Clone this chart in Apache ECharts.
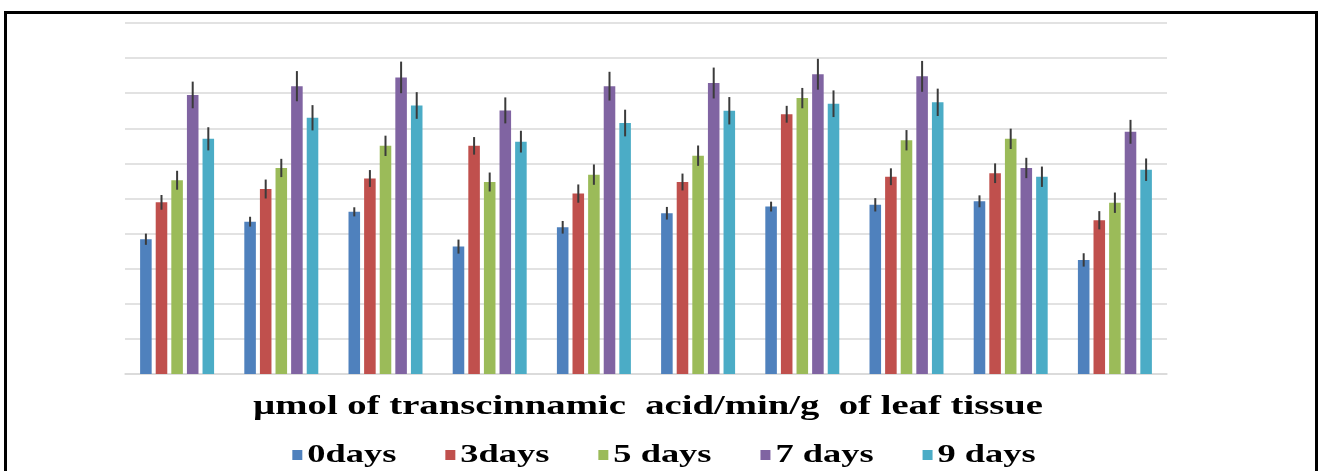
<!DOCTYPE html>
<html>
<head>
<meta charset="utf-8">
<script src="https://cdn.jsdelivr.net/npm/echarts@6/dist/echarts.min.js"></script>
<style>
  html, body { margin: 0; padding: 0; background: #fff; }
  #chart { width: 1321px; height: 471px; }
</style>
</head>
<body>
<div id="chart"></div>
<script>
// Ten treatments, PAL activity sampled at five time points
const categories = ['1', '2', '3', '4', '5', '6', '7', '8', '9', '10'];
const seriesNames = ['0days', '3days', '5 days', '7 days', '9 days'];
const axisTitle = 'µmol of transcinnamic  acid/min/g  of leaf tissue';

const days0 = [3.84, 4.34, 4.62, 3.63, 4.18, 4.58, 4.77, 4.82, 4.92, 3.25];
const days3 = [4.89, 5.27, 5.57, 6.50, 5.14, 5.47, 7.40, 5.62, 5.72, 4.38];
const days5 = [5.52, 5.87, 6.50, 5.47, 5.68, 6.22, 7.86, 6.66, 6.70, 4.88];
const days7 = [7.95, 8.20, 8.45, 7.51, 8.20, 8.29, 8.54, 8.48, 5.87, 6.90];
const days9 = [6.70, 7.30, 7.65, 6.62, 7.15, 7.50, 7.70, 7.74, 5.62, 5.82];

// standard errors
const err0 = [0.16, 0.14, 0.13, 0.20, 0.18, 0.18, 0.14, 0.19, 0.17, 0.19];
const err3 = [0.21, 0.27, 0.24, 0.25, 0.26, 0.24, 0.24, 0.24, 0.28, 0.26];
const err5 = [0.27, 0.26, 0.29, 0.27, 0.29, 0.29, 0.29, 0.29, 0.29, 0.29];
const err7 = [0.38, 0.43, 0.45, 0.37, 0.41, 0.44, 0.44, 0.44, 0.29, 0.34];
const err9 = [0.33, 0.36, 0.38, 0.31, 0.38, 0.39, 0.38, 0.39, 0.29, 0.32];

const yTicks = { min: 0, max: 10, interval: 1 };

const values = [days0, days3, days5, days7, days9];
const errors = [err0, err3, err5, err7, err9];
const colors = ['#4F81BD', '#C0504D', '#9BBB59', '#8064A2', '#4BACC6'];

const CAT_GAP = 0.29;
const BAR_GAP = 0.35;
const N = values.length;

function errorRenderer(seriesIdx) {
  return function (params, api) {
    const catIdx = api.value(0);
    const mean = api.value(1);
    const e = api.value(2);
    const center = api.coord([catIdx, mean]);
    const catWidth = api.size([1, 0])[0];
    const usable = catWidth * (1 - CAT_GAP);
    const bw = usable / (N + (N - 1) * BAR_GAP);
    const x = center[0] - usable / 2 + bw / 2 + seriesIdx * bw * (1 + BAR_GAP);
    const top = api.coord([catIdx, mean + e])[1];
    const bot = api.coord([catIdx, mean - e])[1];
    return {
      type: 'line',
      shape: { x1: x, y1: top, x2: x, y2: bot },
      style: { stroke: '#3b3b3b', lineWidth: 2 }
    };
  };
}

const series = [];
values.forEach((vals, i) => {
  series.push({
    name: seriesNames[i],
    type: 'bar',
    data: vals,
    barCategoryGap: (CAT_GAP * 100) + '%',
    barGap: (BAR_GAP * 100) + '%',
    itemStyle: { color: colors[i] },
    emphasis: { disabled: true }
  });
});
values.forEach((vals, i) => {
  series.push({
    type: 'custom',
    name: seriesNames[i] + ' error',
    renderItem: errorRenderer(i),
    data: vals.map((v, k) => [k, v, errors[i][k]]),
    z: 10,
    silent: true
  });
});

// Wide bold serif captions (horizontally stretched text)
const FONT_FAMILY = 'Liberation Serif';
const measureCtx = document.createElement('canvas').getContext('2d');
function textWidth(str, size) {
  measureCtx.font = 'bold ' + size + 'px "' + FONT_FAMILY + '"';
  return measureCtx.measureText(str).width;
}
const TITLE_SIZE = 28, TITLE_WIDTH = 790;
const TITLE_STRETCH = TITLE_WIDTH / textWidth(axisTitle, TITLE_SIZE);
const LEG_SIZE = 26, LEG_STRETCH = 1.4;

const graphics = [];
graphics.push({
  type: 'text',
  x: 648, y: 407,
  scaleX: TITLE_STRETCH,
  silent: true,
  style: {
    text: axisTitle,
    fill: '#000',
    font: 'bold ' + TITLE_SIZE + 'px "' + FONT_FAMILY + '"',
    align: 'center',
    verticalAlign: 'middle'
  }
});

// legend row
const SQ = 10, SQ_GAP = 5, ITEM_GAP = 49, LEG_Y = 455, LEG_CENTER = 664;
const itemWidths = seriesNames.map(n => SQ + SQ_GAP + textWidth(n, LEG_SIZE) * LEG_STRETCH);
const legendTotal = itemWidths.reduce((a, b) => a + b, 0) + ITEM_GAP * (N - 1);
let lx = LEG_CENTER - legendTotal / 2;
seriesNames.forEach((n, i) => {
  graphics.push({
    type: 'rect',
    silent: true,
    shape: { x: lx, y: LEG_Y - SQ / 2, width: SQ, height: SQ },
    style: { fill: colors[i] }
  });
  graphics.push({
    type: 'text',
    silent: true,
    x: lx + SQ + SQ_GAP, y: LEG_Y,
    scaleX: LEG_STRETCH,
    style: {
      text: n,
      fill: '#000',
      font: 'bold ' + LEG_SIZE + 'px "' + FONT_FAMILY + '"',
      align: 'left',
      verticalAlign: 'middle'
    }
  });
  lx += itemWidths[i] + ITEM_GAP;
});

graphics.push({
  type: 'rect',
  shape: { x: 5.5, y: 12.5, width: 1311, height: 475 },
  style: { fill: null, stroke: '#000', lineWidth: 3 },
  silent: true,
  z: 100
});

const chart = echarts.init(document.getElementById('chart'));
chart.setOption({
  animation: false,
  backgroundColor: '#ffffff',
  grid: { left: 125, right: 154, top: 23, bottom: 97 },
  legend: { show: false, data: seriesNames },
  xAxis: {
    type: 'category',
    data: categories,
    axisLine: { lineStyle: { color: '#d9d9d9', width: 1.5 } },
    axisTick: { show: false },
    axisLabel: { show: false }
  },
  yAxis: {
    type: 'value',
    min: yTicks.min,
    max: yTicks.max,
    interval: yTicks.interval,
    axisLabel: { show: false },
    axisLine: { show: false },
    axisTick: { show: false },
    splitLine: { lineStyle: { color: '#d9d9d9', width: 1.5 } }
  },
  graphic: graphics,
  series: series
});
</script>
</body>
</html>
